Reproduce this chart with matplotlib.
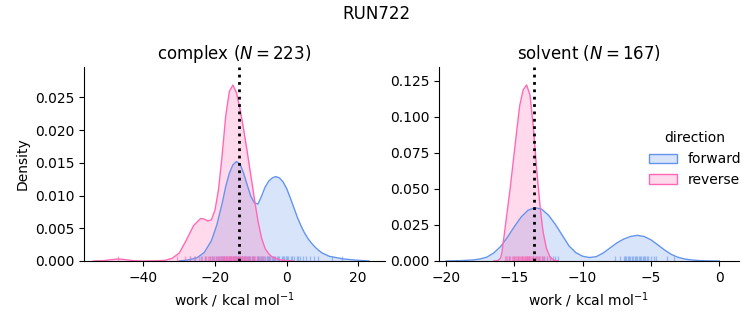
import matplotlib
matplotlib.use("Agg")
import matplotlib.pyplot as plt
from matplotlib.patches import Patch
from matplotlib.colors import to_rgba

# densities (x in kcal/mol, y in density)
complex_fwd_x = [-30, -27, -25, -23, -21, -19.5, -18, -17, -16, -15, -14, -13, -12, -11, -10, -9, -8,
                 -7, -6, -5, -4, -3, -2, -1, 0, 1, 2, 3, 4, 5, 6, 7, 8, 9, 10, 12, 14, 16, 18, 20, 23]
complex_fwd_y = [0, 0.0002, 0.0005, 0.0013, 0.0031, 0.0055, 0.0088, 0.0114, 0.0134, 0.0147, 0.0152,
                 0.0148, 0.0134, 0.0116, 0.0099, 0.0089, 0.0087, 0.0099, 0.0113, 0.0122, 0.0127, 0.0129,
                 0.0127, 0.0121, 0.0111, 0.0097, 0.0082, 0.0067, 0.0054, 0.0043, 0.0034, 0.0027, 0.0021,
                 0.0016, 0.0012, 0.0007, 0.0005, 0.0003, 0.0002, 0.0001, 0]

complex_rev_x = [-54, -51, -49, -47, -45, -43, -40, -36, -34, -32, -30, -28, -26, -24, -23, -22, -21,
                 -20, -19, -18, -17, -16, -15, -14, -13, -12, -11, -10, -9, -8, -7, -6, -5, -4, -3, -2, 0, 2]
complex_rev_y = [0, 0.00005, 0.0002, 0.0003, 0.0002, 0.00005, 0, 0.00003, 0.0001, 0.0004, 0.0012, 0.0032,
                 0.0054, 0.0065, 0.0064, 0.0061, 0.0063, 0.0078, 0.0110, 0.0162, 0.0222, 0.0259, 0.0269,
                 0.0257, 0.0232, 0.0201, 0.0167, 0.0131, 0.0095, 0.0061, 0.0035, 0.0019, 0.0011, 0.0006,
                 0.0004, 0.0002, 0.00005, 0]

solvent_fwd_x = [-20, -19, -18, -17.5, -17, -16.5, -16, -15.5, -15, -14.5, -14, -13.5, -13, -12.5, -12,
                 -11.5, -11, -10.5, -10, -9.5, -9, -8.5, -8, -7.5, -7, -6.5, -6, -5.5, -5, -4.5, -4,
                 -3.5, -3, -2.5, -2, -1.5, -1, 0]
solvent_fwd_y = [0, 0.0002, 0.0007, 0.0014, 0.0027, 0.0056, 0.0100, 0.0165, 0.0238, 0.0305, 0.0352,
                 0.0370, 0.0360, 0.0318, 0.0255, 0.0180, 0.0105, 0.0058, 0.0033, 0.0024, 0.0030, 0.0055,
                 0.0090, 0.0125, 0.0152, 0.0170, 0.0178, 0.0170, 0.0147, 0.0112, 0.0076, 0.0045, 0.0025,
                 0.0013, 0.0007, 0.0003, 0.0001, 0]

solvent_rev_x = [-16.5, -16.2, -16.0, -15.9, -15.8, -15.55, -15.3, -15.05, -14.8, -14.6, -14.35, -14.1,
                 -13.85, -13.6, -13.35, -13.1, -12.9, -12.65, -12.4, -12.15, -11.8]
solvent_rev_y = [0, 0.0003, 0.002, 0.006, 0.0134, 0.032, 0.0505, 0.0713, 0.0921, 0.108, 0.1188, 0.1222,
                 0.1153, 0.0921, 0.062, 0.0366, 0.0204, 0.0088, 0.003, 0.0007, 0]

# rug positions (approximate work values)
complex_fwd_rug = [-27, -25.5, -24, -22.8, -21.5, -20.8, -20.3, -19.6, -19.2, -18.8, -18.4, -18, -17.7,
                   -17.4, -16.9, -16.6, -16.2, -15.8, -15.5, -15.1, -14.7, -14.4, -14.2, -13.8, -13.5,
                   -13.3, -12.9, -12.6, -12.4, -11.9, -11.6, -11.3, -10.8, -10.4, -10.1, -9.6, -9.3,
                   -9.0, -8.4, -8.1, -7.8, -7.1, -6.8, -6.5, -5.9, -5.6, -5.3, -4.8, -4.5, -4.2, -3.7,
                   -3.4, -3.1, -2.6, -2.3, -2.0, -1.4, -1.1, -0.8, -0.2, 0.2, 0.5, 1.2, 1.6, 2.0, 2.8,
                   3.3, 3.7, 4.6, 5.5, 6.5, 7.6, 8.8, 12.6, 15.4]
complex_rev_rug = [-47, -30.5, -28.5, -27, -25.8, -24.5, -23.6, -22.9, -22.4, -22, -21.6, -21.3, -20.9,
                   -20.6, -20.2, -19.8, -19.5, -19.2, -18.9, -18.6, -18.3, -18.1, -17.8, -17.6, -17.4,
                   -17.2, -17.0, -16.8, -16.6, -16.4, -16.2, -16.0, -15.8, -15.6, -15.4, -15.2, -15.0,
                   -14.9, -14.7, -14.5, -14.3, -14.1, -13.9, -13.7, -13.5, -13.3, -13.1, -12.9, -12.7,
                   -12.5, -12.2, -12.0, -11.7, -11.5, -11.2, -11.0, -10.7, -10.4, -10.1, -9.8, -9.4,
                   -9.1, -8.7, -8.3, -7.9, -7.4, -6.9, -6.4, -5.2, -3.5]
solvent_fwd_rug = [-15.4, -15.0, -14.7, -14.4, -14.1, -13.9, -13.6, -13.4, -13.2, -13.0, -12.8, -12.6,
                   -12.4, -12.2, -12.0, -11.8, -7.6, -7.3, -7.0, -6.9, -6.8, -6.7, -6.6, -6.5, -6.4,
                   -6.3, -6.2, -6.1, -6.0, -5.9, -5.8, -5.7, -5.6, -5.5, -5.4, -5.3, -5.2, -5.0, -4.8,
                   -4.6, -3.8, -3.3]
solvent_rev_rug = [-15.7, -15.6, -15.5, -15.4, -15.3, -15.2, -15.1, -15.0, -14.95, -14.9, -14.8, -14.7,
                   -14.65, -14.6, -14.5, -14.45, -14.4, -14.35, -14.3, -14.25, -14.2, -14.15, -14.1,
                   -14.05, -14.0, -13.95, -13.9, -13.85, -13.8, -13.7, -13.65, -13.6, -13.5, -13.4,
                   -13.35, -13.3, -13.2, -13.1, -13.0, -12.9, -12.8, -12.6, -12.4]

# free energy estimates (dotted lines)
complex_dg = -13.3
solvent_dg = -13.57

fwd_color = "cornflowerblue"
rev_color = "hotpink"

fig = plt.figure(figsize=(7.53, 3.25), dpi=100)
ax1 = fig.add_axes([0.1116, 0.197, 0.3997, 0.597])
ax2 = fig.add_axes([0.583, 0.197, 0.398, 0.597])


def draw(ax, fx, fy, rx, ry, frug, rrug, dg):
    for x, y, rug, c in [(fx, fy, frug, fwd_color), (rx, ry, rrug, rev_color)]:
        ax.fill_between(x, y, color=c, alpha=0.25, linewidth=0)
        ax.plot(x, y, color=c, lw=1.0)
        ax.vlines(rug, 0, 0.025, transform=ax.get_xaxis_transform(), color=c, lw=1.0, alpha=0.55)
    ax.axvline(dg, color="black", ls=":", lw=2)
    ax.spines["top"].set_visible(False)
    ax.spines["right"].set_visible(False)
    ax.set_xlabel("work / kcal mol$^{-1}$")


draw(ax1, complex_fwd_x, complex_fwd_y, complex_rev_x, complex_rev_y,
     complex_fwd_rug, complex_rev_rug, complex_dg)
ax1.set_xlim(-56.6, 27.5)
ax1.set_ylim(0, 0.02966)
ax1.set_xticks([-40, -20, 0, 20])
ax1.set_yticks([0, 0.005, 0.01, 0.015, 0.02, 0.025])
ax1.set_ylabel("Density")
ax1.set_title("complex ($N = 223$)")

draw(ax2, solvent_fwd_x, solvent_fwd_y, solvent_rev_x, solvent_rev_y,
     solvent_fwd_rug, solvent_rev_rug, solvent_dg)
ax2.set_xlim(-20.51, 1.42)
ax2.set_ylim(0, 0.1347)
ax2.set_xticks([-20, -15, -10, -5, 0])
ax2.set_yticks([0, 0.025, 0.05, 0.075, 0.1, 0.125])
ax2.set_title("solvent ($N = 167$)")

handles = [Patch(facecolor=to_rgba(fwd_color, 0.25), edgecolor=fwd_color),
           Patch(facecolor=to_rgba(rev_color, 0.25), edgecolor=rev_color)]
fig.legend(handles, ["forward", "reverse"], title="direction", frameon=False,
           loc="center left", bbox_to_anchor=(0.845, 0.51))

fig.suptitle("RUN722", y=0.985)
fig.savefig("out.png", dpi=100)
